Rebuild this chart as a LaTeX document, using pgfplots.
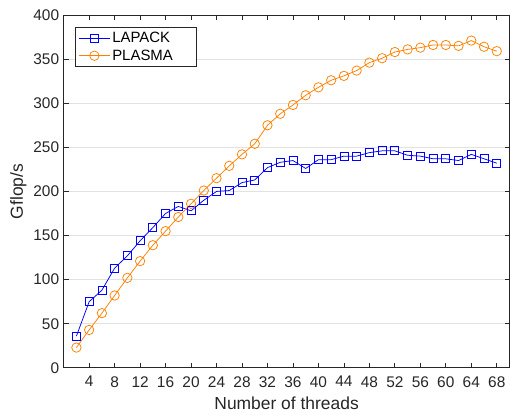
\documentclass[border=0pt]{standalone}
\usepackage{fontspec}
\setmainfont{Liberation Sans}
\usepackage{pgfplots}
\pgfplotsset{compat=1.18}
\definecolor{lapack}{RGB}{0,0,255}
\definecolor{plasma}{RGB}{255,128,0}
\definecolor{axgray}{RGB}{38,38,38}
\definecolor{gridgray}{RGB}{226,226,226}
\begin{document}
\begin{tikzpicture}
\begin{axis}[
  at={(0,0)}, anchor=south west,
  scale only axis, width=446bp, height=353bp,
  xmin=0, xmax=70, ymin=0, ymax=400,
  xtick={4,8,...,68}, ytick={0,50,...,400},
  tick align=inside,
  major tick length=5bp,
  ymajorgrids,
  grid style={gridgray, line width=0.75bp},
  axis line style={axgray, line width=0.75bp},
  tick style={axgray, line width=0.75bp},
  /pgf/number format/assume math mode=true,
  ticklabel style={font=\fontsize{15.5}{18}\selectfont, text=axgray},
  xticklabel style={yshift=-5bp},
  yticklabel style={xshift=-1bp},
  label style={font=\fontsize{17.5}{20}\selectfont, text=axgray},
  xlabel style={yshift=-5.5bp, inner sep=0.5bp},
  xlabel={Number of threads},
  ylabel={Gflop/s},
  legend cell align=left,
  legend image code/.code={\draw[mark repeat=2,mark phase=2] plot coordinates {(0bp,0bp)(15.5bp,0bp)(31bp,0bp)};},
  legend style={at={(0,1)}, anchor=north west, xshift=11.5bp, yshift=-12bp,
    font=\fontsize{15}{17}\selectfont, draw=axgray, line width=0.75bp,
    inner xsep=3bp, inner ysep=3bp, row sep=1.5bp},
]
\addplot[color=lapack, line width=0.75bp, mark=square, mark size=4bp, mark options={solid, draw=lapack}] coordinates {
(2,36) (4,75) (6,88) (8,113) (10,127) (12,144) (14,159) (16,175) (18,183) (20,178)
(22,190) (24,200) (26,201) (28,210) (30,213) (32,227) (34,233) (36,235) (38,226) (40,236)
(42,236) (44,240) (46,240) (48,244) (50,246) (52,246) (54,241) (56,240) (58,237) (60,237)
(62,235) (64,242) (66,237) (68,232)};
\addlegendentry{\makebox[79bp][l]{LAPACK}}
\addplot[color=plasma, line width=0.75bp, mark=o, mark size=4.7bp, mark options={solid, draw=plasma}] coordinates {
(2,23) (4,43) (6,62) (8,82) (10,102) (12,121) (14,139) (16,155) (18,171) (20,186)
(22,201) (24,215) (26,229) (28,242) (30,254) (32,275) (34,288) (36,298) (38,309) (40,318)
(42,326) (44,331) (46,337) (48,346) (50,351) (52,358) (54,361) (56,363) (58,366) (60,366)
(62,365) (64,371) (66,364) (68,359)};
\addlegendentry{\makebox[79bp][l]{PLASMA}}
\end{axis}
\pgfresetboundingbox
\path (-63.7bp,-47bp) rectangle (446.5bp,368bp);
\end{tikzpicture}
\end{document}
